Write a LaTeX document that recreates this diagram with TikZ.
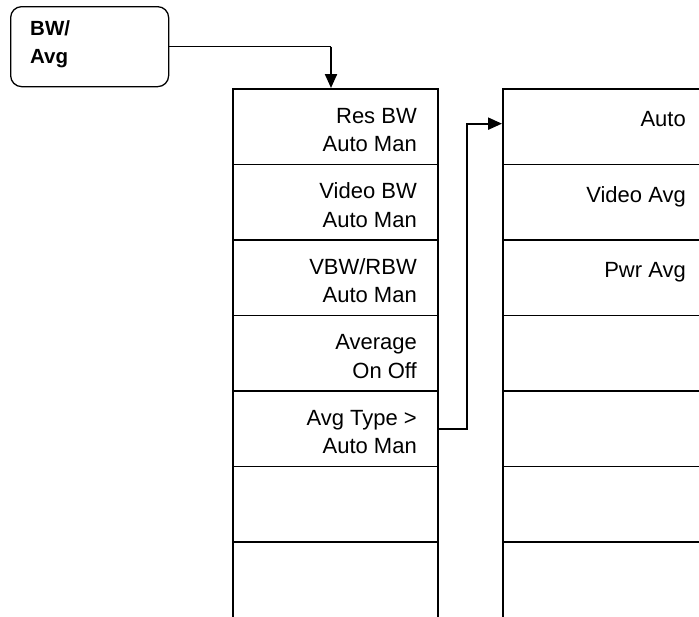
\documentclass[tikz,border=0pt]{standalone}
\usepackage{fontspec}
\setmainfont{Liberation Sans}
\usetikzlibrary{arrows.meta,calc}
\newcommand\twolines[2]{\begin{tabular}[t]{@{}r@{}}#1\\#2\end{tabular}}
\newcommand\twolinesl[2]{\begin{tabular}[t]{@{}l@{}}#1\\#2\end{tabular}}
\tikzset{
  cell/.style={draw, line width=1.8pt, minimum width=205pt, minimum height=75.5pt, inner sep=0pt, anchor=north west},
  rcell/.style={draw, line width=1.8pt, minimum width=240pt, minimum height=75.5pt, inner sep=0pt, anchor=north west},
  keybox/.style={draw, line width=1.3pt, rounded corners=11pt, minimum width=158pt, minimum height=80pt, inner sep=0pt, anchor=north west},
  lbl/.style={inner sep=0pt, anchor=base east, font=\fontsize{22}{28.5}\selectfont},
  keylbl/.style={inner sep=0pt, anchor=base west, font=\fontsize{20.5}{28}\selectfont\bfseries},
  conn/.style={line width=2.2pt, -{Triangle[length=14pt,width=12pt]}},
}
\begin{document}
\begin{tikzpicture}[x=1pt,y=-1pt]
\useasboundingbox (0,0) rectangle (699,616);
\clip (0,0) rectangle (699,616);
% menu key
\node[keybox] (bwavg) at (10,6) {};
\node[keylbl] (bwavgt) at (30,35) {\twolinesl{BW/}{Avg}};
% left column
\foreach \i in {1,...,7} {
  \node[cell] (L\i) at (232,{88+75.5*(\i-1)}) {};
}
% right column
\foreach \i in {1,...,7} {
  \node[rcell] (R\i) at (502,{88+75.5*(\i-1)}) {};
}
% left labels
\node[lbl] (t1) at (417,123) {\twolines{Res BW}{Auto Man}};
\node[lbl] (t2) at (417,198.5) {\twolines{Video BW}{Auto Man}};
\node[lbl] (t3) at (417,274) {\twolines{VBW/RBW}{Auto Man}};
\node[lbl] (t4) at (417,349.5) {\twolines{Average}{On Off}};
\node[lbl] (t5) at (417,425) {\twolines{Avg Type >}{Auto Man}};
% right labels
\node[lbl] (r1) at (686,126.5) {Auto};
\node[lbl] (r2) at (686,202) {Video Avg};
\node[lbl] (r3) at (686,277.5) {Pwr Avg};
% connectors
\coordinate (j1) at (331,0);
\draw[line width=1.3pt] (bwavg.east) -- (bwavg.east -| j1);
\draw[conn] (bwavg.east -| j1) -- (L1.north -| j1);
\coordinate (j2) at (467,0);
\draw[conn] (L5.east) -- (L5.east -| j2) |- ([yshift=3pt]R1.west);
\end{tikzpicture}
\end{document}
